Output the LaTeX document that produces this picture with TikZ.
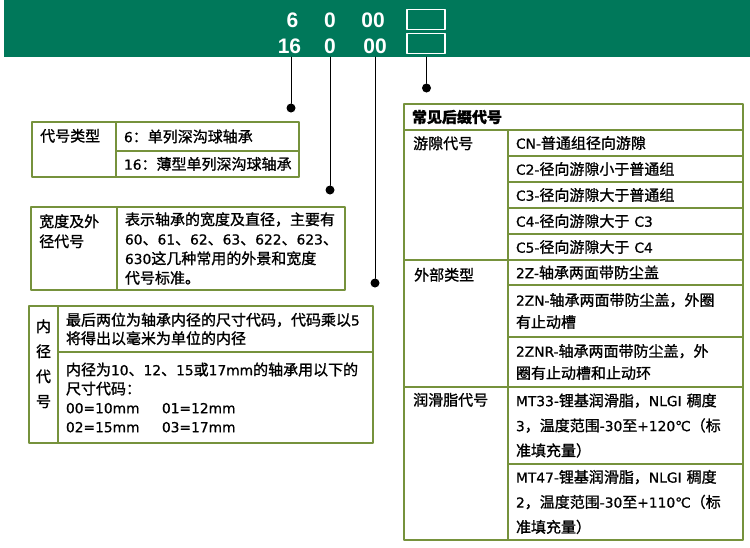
\documentclass[tikz,border=0pt]{standalone}
\usepackage{fontspec}
\setmainfont{Noto Sans CJK SC}[FakeBold=1.2]
\newfontfamily\digitfnt{Liberation Sans}
\newfontfamily\latfnt{DejaVu Sans}[Scale=0.92,FakeBold=0.8]
\newcommand\lx[1]{{\latfnt #1}}
\usepackage{tikz}
\usetikzlibrary{positioning,calc}
\definecolor{bandgreen}{HTML}{00785A}
\definecolor{olive}{HTML}{76923C}
\newcommand\cellfnt{\fontsize{15}{19}\selectfont}
\tikzset{
    every picture/.style={line cap=round,line join=round},
    codeband/.style={fill=bandgreen,anchor=north west,minimum width=746pt,
      minimum height=57pt,inner sep=0pt,outer sep=0pt},
    digit/.style={text=white,anchor=base,inner sep=0pt,
      font=\digitfnt\bfseries\fontsize{21}{21}\selectfont},
    sufbox/.style={draw=white,line width=1.2pt,minimum width=38pt,
      minimum height=20pt,inner sep=0pt},
    dot/.style={circle,fill=black,minimum size=9pt,inner sep=0pt},
    leader/.style={draw=black,line width=1pt},
    cell/.style={draw=olive,line width=1.2pt,anchor=north west,inner xsep=8pt,
      inner ysep=0pt,outer sep=0pt,align=left,font=\cellfnt},
    cellsize/.style 2 args={minimum width=#1pt,minimum height=#2pt,
      text width=#1pt-16pt},
    keytext/.style={anchor=base west,inner sep=0pt,align=left,text width=80pt,
      font=\fontsize{15}{20}\selectfont}
}
\begin{document}
\begin{tikzpicture}[x=1pt,y=-1pt]
  \useasboundingbox (0,0) rectangle (750,547);
  % code line on the band
  \node[codeband] (band) at (4,0) {};
  \node[digit] (six) at (292.5,27) {6};
  \node[digit] (zeroA) at (330,27) {0};
  \node[digit] (boreA) at (373,27) {00};
  \node[digit] (sixteen) at (289.5,53) {16};
  \node[digit] (zeroB) at (330,53) {0};
  \node[digit] (boreB) at (375,53) {00};
  \node[sufbox] (sufA) at (426,19.5) {};
  \node[sufbox] (sufB) at (426,43.5) {};
  \node[dot] (dot16) at (291,108) {};
  \node[dot] (dot0) at (330,190) {};
  \node[dot] (dot00) at (375,283) {};
  \node[dot] (dotsuf) at (426.5,88) {};
  \draw[leader] (dot16 |- band.south) -- (dot16);
  \draw[leader] (dot0 |- band.south) -- (dot0);
  \draw[leader] (dot00 |- band.south) -- (dot00);
  \draw[leader] (dotsuf |- band.south) -- (dotsuf);
  % type
  \node[cell,cellsize={84}{55}] (typekey) at (32,122) {};
  \node[below right=19.5pt and 8pt of typekey.north west,keytext] (typekeytxt) {代号类型};
  \node[cell,cellsize={183}{29}] (type6) at (typekey.north east) {\lx{6}：单列深沟球轴承};
  \node[cell,cellsize={183}{26}] (type16) at (type6.south west) {\lx{16}：薄型单列深沟球轴承};
  % width and diameter
  \node[cell,cellsize={86}{83}] (widthkey) at (31,207) {};
  \node[below right=20pt and 8pt of widthkey.north west,keytext] (widthkeytxt) {宽度及外\\径代号};
  \node[cell,cellsize={228}{83},font=\fontsize{15}{19.5}\selectfont] (widthval) at (widthkey.north east)
    {表示轴承的宽度及直径，主要有\\\lx{60}、\lx{61}、\lx{62}、\lx{63}、\lx{622}、\lx{623}、\\\lx{630}这几种常用的外景和宽度\\代号标准。};
  % bore
  \node[cell,cellsize={29}{137}] (borekey) at (29,306) {};
  \node[below=26pt of borekey.north,keytext,anchor=base,align=center,text width=15pt,
    font=\fontsize{15}{25}\selectfont] (borekeytxt) {内\\径\\代\\号};
  \node[cell,cellsize={315}{46},font=\fontsize{15}{18.5}\selectfont] (borerule) at (borekey.north east)
    {最后两位为轴承内径的尺寸代码，代码乘以\lx{5}\\将得出以毫米为单位的内径};
  \node[cell,cellsize={315}{91}] (borelist) at (borerule.south west)
    {内径为\lx{10}、\lx{12}、\lx{15}或\lx{17mm}的轴承用以下的\\尺寸代码：\\
     \lx{\makebox[96pt][l]{00=10mm}01=12mm}\\\lx{\makebox[96pt][l]{02=15mm}03=17mm}};
  % suffixes
  \node[cell,cellsize={339}{26},font=\bfseries\cellfnt] (sufhead) at (404,104) {常见后缀代号};
  \node[cell,cellsize={104}{130}] (clearkey) at (sufhead.south west) {};
  \node[below right=19pt and 9pt of clearkey.north west,keytext] (clearkeytxt) {游隙代号};
  \node[cell,cellsize={235}{26}] (cn) at (clearkey.north east) {\lx{CN-}普通组径向游隙};
  \node[cell,cellsize={235}{26}] (ctwo) at (cn.south west) {\lx{C2-}径向游隙小于普通组};
  \node[cell,cellsize={235}{26}] (cthree) at (ctwo.south west) {\lx{C3-}径向游隙大于普通组};
  \node[cell,cellsize={235}{26}] (cfour) at (cthree.south west) {\lx{C4-}径向游隙大于 \lx{C3}};
  \node[cell,cellsize={235}{26}] (cfive) at (cfour.south west) {\lx{C5-}径向游隙大于 \lx{C4}};
  \node[cell,cellsize={104}{127}] (shieldkey) at (clearkey.south west) {};
  \node[below right=20.5pt and 10pt of shieldkey.north west,keytext] (shieldkeytxt) {外部类型};
  \node[cell,cellsize={235}{25}] (ztwo) at (shieldkey.north east) {\lx{2Z-}轴承两面带防尘盖};
  \node[cell,cellsize={235}{52},font=\fontsize{15}{22}\selectfont] (zn) at (ztwo.south west)
    {\lx{2ZN-}轴承两面带防尘盖，外圈\\有止动槽};
  \node[cell,cellsize={235}{50},font=\fontsize{15}{22}\selectfont] (znr) at (zn.south west)
    {\lx{2ZNR-}轴承两面带防尘盖，外\\圈有止动槽和止动环};
  \node[cell,cellsize={104}{153}] (greasekey) at (shieldkey.south west) {};
  \node[below right=18.5pt and 9pt of greasekey.north west,keytext] (greasekeytxt) {润滑脂代号};
  \node[cell,cellsize={235}{77},font=\fontsize{15}{25}\selectfont] (mtA) at (greasekey.north east)
    {\lx{MT33-}锂基润滑脂，\lx{NLGI} 稠度\\\lx{3}，温度范围\lx{-30}至\lx{+120℃}（标\\准填充量）};
  \node[cell,cellsize={235}{76},font=\fontsize{15}{25}\selectfont] (mtB) at (mtA.south west)
    {\lx{MT47-}锂基润滑脂，\lx{NLGI} 稠度\\\lx{2}，温度范围\lx{-30}至\lx{+110℃}（标\\准填充量）};
\end{tikzpicture}
\end{document}
